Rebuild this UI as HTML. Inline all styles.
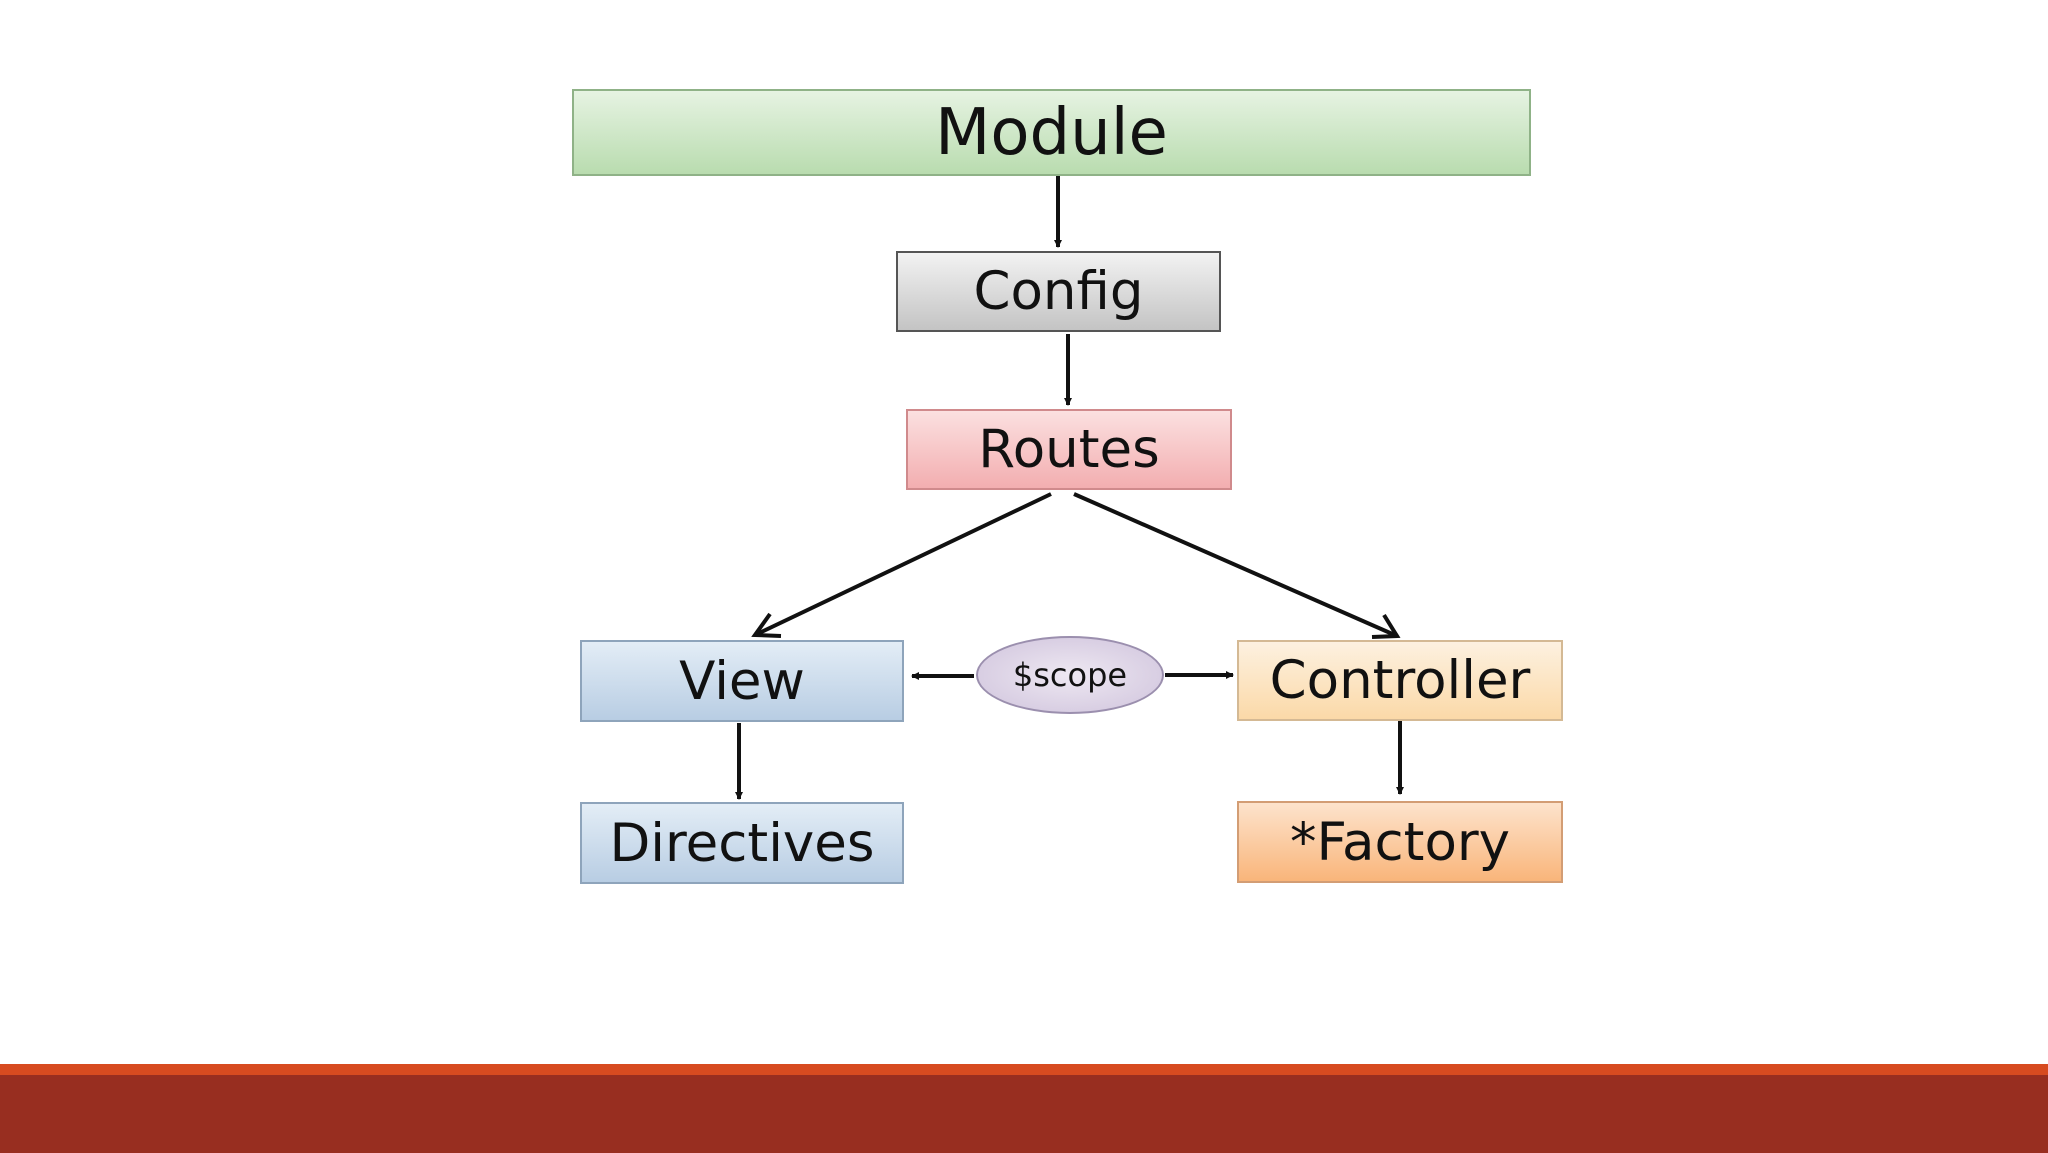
<!DOCTYPE html>
<html><head><style>
html,body{margin:0;padding:0;width:2048px;height:1153px;background:#fff;overflow:hidden;font-family:"DejaVu Sans","Liberation Sans",sans-serif;}
.b{position:absolute;box-sizing:border-box;display:flex;align-items:center;justify-content:center;color:#111;font-size:53px;border:2px solid #8a8a8a;}
</style></head><body>
<div class="b" style="left:572px;top:89px;width:959px;height:87px;font-size:64px;background:linear-gradient(#e6f3e2,#b9dcaf);border-color:#8fb287;">Module</div>
<div class="b" style="left:896px;top:251px;width:325px;height:81px;background:linear-gradient(#f2f2f2,#c4c4c4);border-color:#555;">Config</div>
<div class="b" style="left:906px;top:409px;width:326px;height:81px;background:linear-gradient(#fbe0e0,#f3aeb0);border-color:#d08a8c;">Routes</div>
<div class="b" style="left:580px;top:640px;width:324px;height:82px;background:linear-gradient(#e3edf6,#b8cde3);border-color:#8ea4bb;">View</div>
<div class="b" style="left:580px;top:802px;width:324px;height:82px;background:linear-gradient(#e3edf6,#b8cde3);border-color:#8ea4bb;">Directives</div>
<div class="b" style="left:1237px;top:640px;width:326px;height:81px;background:linear-gradient(#fdf1e0,#fbd9a8);border-color:#d4b994;">Controller</div>
<div class="b" style="left:1237px;top:801px;width:326px;height:82px;background:linear-gradient(#fde3cc,#f9b57a);border-color:#d39d74;">*Factory</div>
<div class="b" style="left:976px;top:636px;width:188px;height:78px;border-radius:50%;font-size:32px;background:radial-gradient(#eee8f2,#cfc3dc);border-color:#9b8fae;">$scope</div>
<svg width="2048" height="1153" style="position:absolute;left:0;top:0">
<defs><marker id="a" markerWidth="8" markerHeight="8" refX="7" refY="4" orient="auto" markerUnits="userSpaceOnUse"><path d="M0,0 L8,4 L0,8 z" fill="#111"/></marker></defs>
<g stroke="#111" stroke-width="4" fill="none">
<line x1="1058" y1="176" x2="1058" y2="247" marker-end="url(#a)"/>
<line x1="1068" y1="334" x2="1068" y2="405" marker-end="url(#a)"/>
<line x1="739" y1="723" x2="739" y2="799" marker-end="url(#a)"/>
<line x1="1400" y1="721" x2="1400" y2="794" marker-end="url(#a)"/>
<line x1="974" y1="676" x2="912" y2="676" marker-end="url(#a)"/>
<line x1="1165" y1="675" x2="1233" y2="675" marker-end="url(#a)"/>
<line x1="1051" y1="494" x2="755" y2="635"/>
<polyline points="770,614 755,635 781,636"/>
<line x1="1074" y1="494" x2="1397" y2="636"/>
<polyline points="1372,637 1397,636 1384,615"/>
</g></svg>
<div style="position:absolute;left:0;top:1064px;width:2048px;height:11px;background:#d74b20"></div>
<div style="position:absolute;left:0;top:1075px;width:2048px;height:78px;background:#982e20"></div>
</body></html>
